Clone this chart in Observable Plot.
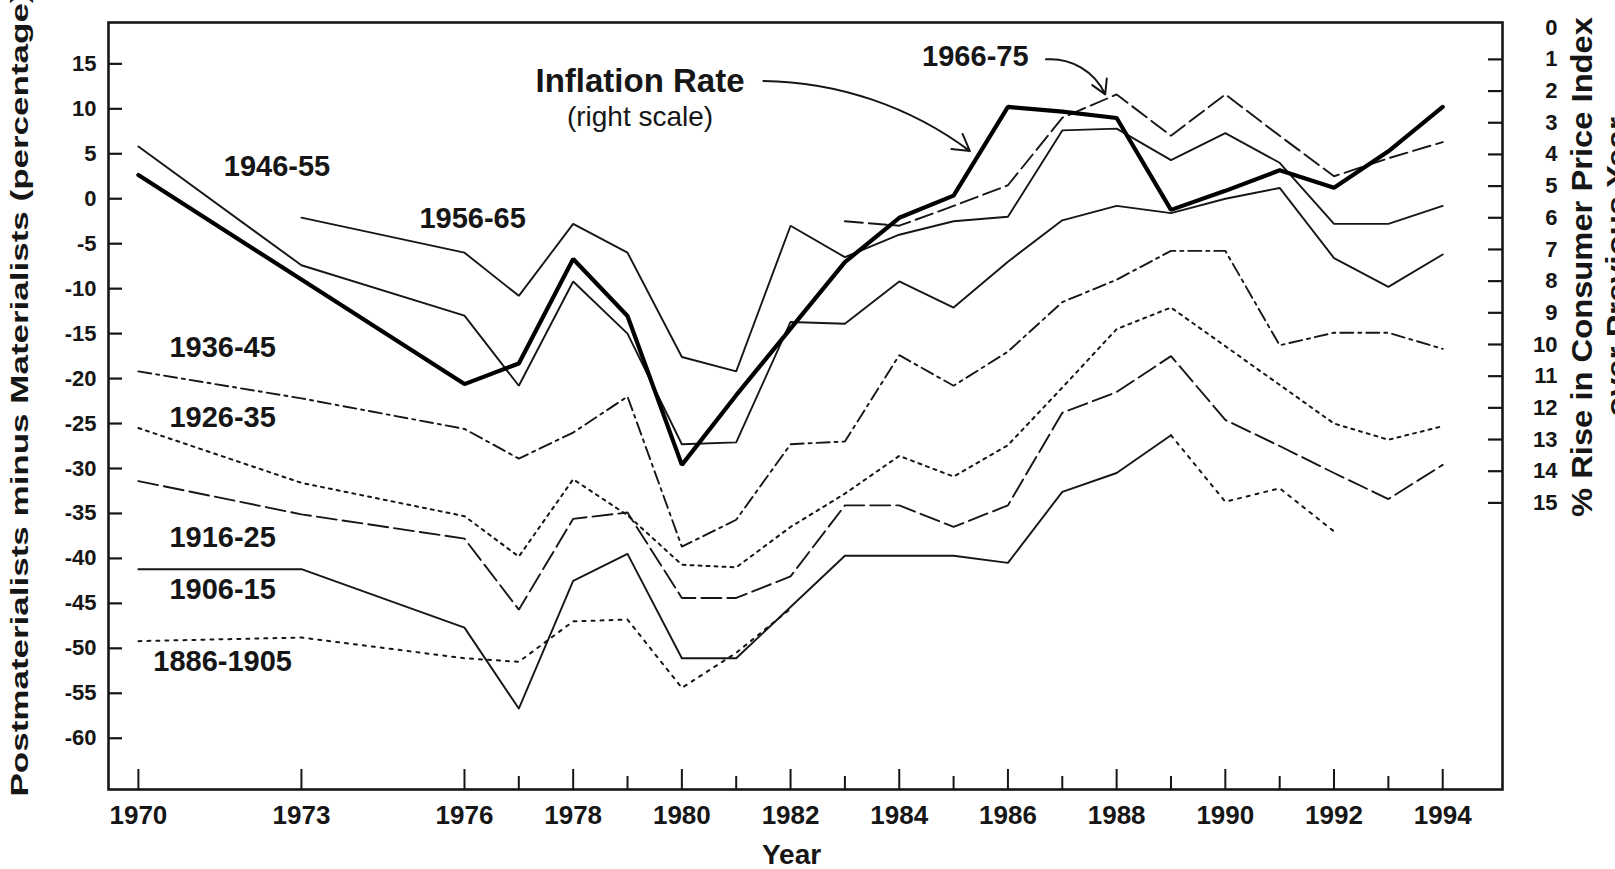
<!DOCTYPE html>
<html><head><meta charset="utf-8">
<script src="https://cdn.jsdelivr.net/npm/d3@7"></script>
<script src="https://cdn.jsdelivr.net/npm/@observablehq/plot@0.6"></script>
<style>
html,body{margin:0;padding:0;background:#fff;overflow:hidden;}
#chart{width:1615px;height:869px;}
</style></head><body><div id="chart"></div>
<script>
// ---- data ----
const years = [1970,1973,1976,1977,1978,1979,1980,1981,1982,1983,1984,1985,1986,1987,1988,1989,1990,1991,1992,1993,1994];
// inflation, in right-scale units (% rise in CPI)
const inflationRate = [4.65,7.95,11.25,10.6,7.3,9.1,13.8,11.6,9.5,7.4,6.0,5.3,2.5,2.65,2.85,5.75,5.15,4.5,5.05,3.9,2.5];
const cohort1966_75 = [null,null,null,null,null,null,null,null,null,-2.5,-3.0,-0.8,1.5,9.0,11.6,7.0,11.6,7.0,2.5,4.5,6.3];
const cohort1956_65 = [null,-2.1,-6.0,-10.8,-2.8,-6.0,-17.6,-19.2,-3.0,-6.5,-4.0,-2.5,-2.0,7.6,7.8,4.3,7.3,4.0,-2.8,-2.8,-0.8];
const cohort1946_55 = [5.8,-7.4,-13.0,-20.8,-9.2,-15.0,-27.3,-27.1,-13.7,-13.9,-9.2,-12.1,-7.0,-2.4,-0.8,-1.6,0.0,1.2,-6.6,-9.8,-6.2];
const cohort1936_45 = [-19.2,-22.2,-25.6,-28.9,-26.0,-22.0,-38.7,-35.7,-27.3,-27.0,-17.4,-20.8,-17.0,-11.5,-9.0,-5.8,-5.8,-16.3,-14.9,-14.9,-16.7];
const cohort1926_35 = [-25.5,-31.6,-35.3,-39.8,-31.2,-35.2,-40.7,-41.0,-36.5,-32.8,-28.6,-30.9,-27.4,-21.0,-14.5,-12.1,-16.4,-20.7,-25.0,-26.8,-25.3];
const cohort1916_25 = [-31.4,-35.1,-37.8,-45.7,-35.6,-34.9,-44.4,-44.4,-42.0,-34.1,-34.1,-36.5,-34.1,-23.8,-21.5,-17.5,-24.6,-27.5,-30.5,-33.4,-29.6];
const cohort1906_15 = [-41.2,-41.2,-47.7,-56.7,-42.5,-39.5,-51.1,-51.1,-45.4,-39.7,-39.7,-39.7,-40.5,-32.6,-30.5,-26.3,-33.7,-32.2,-37.0,null,null];
const cohort1886_1905 = [-49.2,-48.8,-51.1,-51.5,-47.0,-46.8,-54.4,-50.5,-45.6,null,null,null,null,null,null,null,null,null,null,null,null];

const cohortNames = ["1966-75","1956-65","1946-55","1936-45","1926-35","1916-25","1906-15","1886-1905"];
const leftTicks = [15,10,5,0,-5,-10,-15,-20,-25,-30,-35,-40,-45,-50,-55,-60];
const rightTicks = [0,1,2,3,4,5,6,7,8,9,10,11,12,13,14,15];
const xLabelYears = [1970,1973,1976,1978,1980,1982,1984,1986,1988,1990,1992,1994];
const xMinorYears = [1977,1979,1981,1983,1985,1987,1989,1991,1993];
const xAxisTitle = "Year";
const leftAxisTitle = "Postmaterialists minus Materialists (percentage)";
const rightAxisTitle = "% Rise in Consumer Price Index";
const rightAxisTitle2 = "over Previous Year";
const inflationLabel = "Inflation Rate";
const inflationNote = "(right scale)";

// ---- right scale mapping (right value r -> left-axis value) ----
const R0 = 19.02, RK = 3.523;
const toLeft = r => R0 - RK * r;
const fromLeft = v => (R0 - v) / RK;

const W = 1615, H = 869, ML = 108, MR = 113, MT = 22, MB = 80;
const frameW = W - ML - MR, frameH = H - MT - MB;

const rows = vals => years.map((y, i) => ({year: y, value: vals[i]})).filter(d => d.value != null);
const ink = "#161616";

const lineDefs = [
  {vals: cohort1966_75, dash: "18,6", w: 1.9},
  {vals: cohort1956_65, dash: null, w: 1.9},
  {vals: cohort1946_55, dash: null, w: 1.9},
  {vals: cohort1936_45, dash: "13,5,3,5", w: 1.9},
  {vals: cohort1926_35, dash: "3,5", w: 2},
  {vals: cohort1916_25, dash: "20,6", w: 1.9},
  {vals: cohort1886_1905, dash: "3,6", w: 2}
];

const lineMarks = lineDefs.map(d => Plot.line(rows(d.vals), {
  x: "year", y: "value", stroke: ink, strokeWidth: d.w,
  strokeDasharray: d.dash || undefined, strokeLinejoin: "miter"
}));
// 1906-15: solid through 1989, dotted afterwards
const r0615 = rows(cohort1906_15);
lineMarks.push(Plot.line(r0615.filter(d => d.year <= 1989), {x: "year", y: "value", stroke: ink, strokeWidth: 1.9}));
lineMarks.push(Plot.line(r0615.filter(d => d.year >= 1989), {x: "year", y: "value", stroke: ink, strokeWidth: 2, strokeDasharray: "3,6"}));
// inflation (thick) on right scale
const inflRows = years.map((y, i) => ({year: y, value: toLeft(inflationRate[i])}));
lineMarks.push(Plot.line(inflRows, {x: "year", y: "value", stroke: "#000", strokeWidth: 4.2, strokeLinejoin: "miter"}));

// annotation layout (label placement)
const cohortLabelPos = [[1985.4,15.8],[1976.15,-2.2],[1972.55,3.6],[1971.55,-16.6],[1971.55,-24.4],[1971.55,-37.7],[1971.55,-43.5],[1971.55,-51.5]];
const cohortAnn = cohortNames.map((t, i) => ({text: t, x: cohortLabelPos[i][0], y: cohortLabelPos[i][1]}));

const plot = Plot.plot({
  width: W, height: H,
  marginLeft: ML, marginRight: MR, marginTop: MT, marginBottom: MB,
  x: {domain: [1969.45, 1995.1]},
  y: {domain: [-65.7, 19.6]},
  style: {fontFamily: "'Liberation Sans', Arial, sans-serif", color: ink, background: "#fff", overflow: "hidden"},
  marks: [
    // x axis (ticks point inward)
    Plot.axisX(xLabelYears, {anchor: "bottom", tickSize: 20, dy: -20, tickFormat: () => "", label: null, strokeWidth: 2}),
    Plot.axisX(xMinorYears, {anchor: "bottom", tickSize: 13, dy: -13, tickFormat: () => "", label: null, strokeWidth: 2}),
    Plot.axisX(xLabelYears, {anchor: "bottom", tickSize: 0, tickPadding: 16, tickFormat: d => String(d), fontSize: 26, fontWeight: "bold", label: null}),
    // left axis: inward ticks + labels
    Plot.tickY(leftTicks, {y: d => d, insetRight: frameW - 14, stroke: ink, strokeWidth: 2.2}),
    Plot.axisY(leftTicks, {anchor: "left", tickSize: 0, tickPadding: 12, tickFormat: d => String(d), fontSize: 22, fontWeight: "bold", label: null}),
    // right axis: inward ticks + labels
    Plot.tickY(rightTicks.filter(r => r > 0).map(toLeft), {y: d => d, insetLeft: frameW - 14, stroke: ink, strokeWidth: 2.2}),
    Plot.axisY(rightTicks.map(toLeft), {anchor: "right", tickSize: 0, tickPadding: 55, textAnchor: "end", tickFormat: d => String(Math.round(fromLeft(d))), fontSize: 22, fontWeight: "bold", label: null}),
    Plot.frame({stroke: ink, strokeWidth: 2.6}),
    ...lineMarks,
    // annotations
    Plot.text(cohortAnn, {x: "x", y: "y", text: "text", fontSize: 29, fontWeight: "bold", fill: ink}),
    Plot.text([inflationLabel], {x: [1979.23], y: [13.1], text: d => d, fontSize: 33, fontWeight: "bold", fill: ink}),
    Plot.text([inflationNote], {x: [1979.23], y: [9.1], text: d => d, fontSize: 28, fill: ink}),
    Plot.arrow([0], {x1: [1981.5], y1: [13.1], x2: [1985.3], y2: [5.3], bend: 18, stroke: ink, strokeWidth: 2, headLength: 14}),
    Plot.arrow([0], {x1: [1986.7], y1: [15.5], x2: [1987.79], y2: [11.6], bend: 35, stroke: ink, strokeWidth: 2, headLength: 12}),
    // axis titles
    Plot.text([xAxisTitle], {frameAnchor: "bottom", text: d => d, dx: -14, dy: 66, fontSize: 28, fontWeight: "bold", lineAnchor: "middle", textAnchor: "middle", fill: ink}),
    Plot.text([leftAxisTitle], {frameAnchor: "left", text: d => d, dx: -88, dy: -12, rotate: -90, fontSize: 23, fontWeight: "bold", lineAnchor: "middle", textAnchor: "middle", fill: ink}),
    Plot.text([rightAxisTitle], {frameAnchor: "right", text: d => d, dx: 80, dy: -139, rotate: -90, fontSize: 29, fontWeight: "bold", lineAnchor: "middle", textAnchor: "middle", fill: ink}),
    Plot.text([rightAxisTitle2], {frameAnchor: "right", text: d => d, dx: 115, dy: -139, rotate: -90, fontSize: 29, fontWeight: "bold", lineAnchor: "middle", textAnchor: "middle", fill: ink})
  ]
});
document.getElementById("chart").appendChild(plot);
// stretch the rotated axis titles to the lengths seen in the reference
const stretch = {};
stretch[leftAxisTitle] = 805;
stretch[rightAxisTitle] = 500;
stretch[rightAxisTitle2] = 300;
d3.select(plot).selectAll("text").each(function () {
  const t = this.textContent;
  if (stretch[t]) {
    d3.select(this).attr("textLength", stretch[t]).attr("lengthAdjust", "spacingAndGlyphs");
  }
});
</script></body></html>
